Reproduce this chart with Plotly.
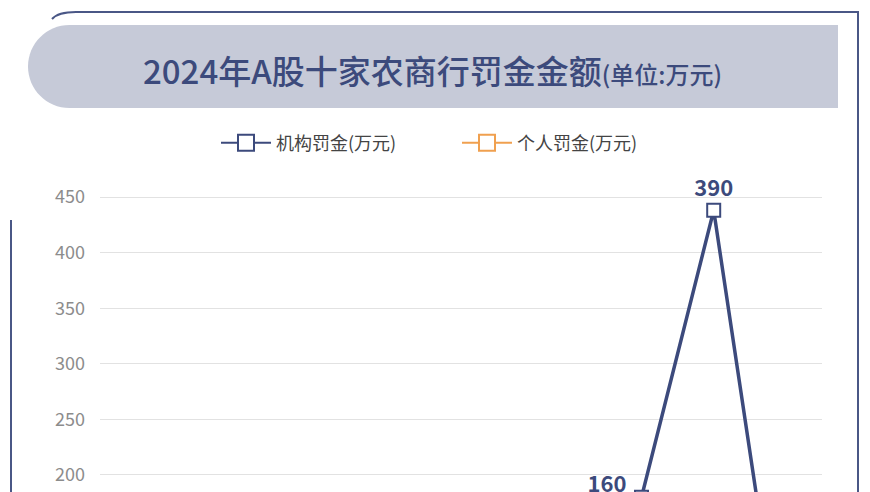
import plotly.graph_objects as go

# ten A-share rural commercial banks (x axis labels sit below the visible crop)
banks = ["沪农商行", "渝农商行", "青农商行", "常熟银行", "苏农银行",
         "江阴银行", "张家港行", "无锡银行", "紫金银行", "瑞丰银行"]

# institution fines, read as positions on the value axis
inst_fine = [120, 95, 60, 140, 80, 50, 100, 180, 438, 5]
# the numbers printed beside the markers
inst_label = ["", "", "", "", "", "", "", "160", "390", ""]

# personal fines (all below the visible part of the chart)
person_fine = [30, 45, 20, 60, 15, 25, 10, 35, 40, 20]

y_ticks = [0, 50, 100, 150, 200, 250, 300, 350, 400, 450]

NAVY = "#3c4a7c"
ORANGE = "#f0a04f"
FONT = "Noto Sans CJK SC"

# the page puts the plot 8px in from the top-left corner
OX, OY = 8, 8
W, H = 870 - OX, 492 - OY


def px(x):
    return (x - OX) / W


def py(y):
    return 1 - (y - OY) / H


fig = go.Figure()

series = [("机构罚金(万元)", inst_fine, NAVY), ("个人罚金(万元)", person_fine, ORANGE)]

for name, values, color in series:
    fig.add_trace(go.Scatter(
        x=banks, y=values,
        mode="lines+markers",
        name=name,
        showlegend=False,
        line=dict(color=color, width=3.5),
        marker=dict(symbol="square", size=13, color="white",
                    line=dict(color=color, width=2)),
        hoverinfo="skip",
    ))

# legend keys drawn thinner / bigger like the original
for name, values, color in series:
    fig.add_trace(go.Scatter(
        x=[None], y=[None],
        mode="lines+markers",
        name=name,
        line=dict(color=color, width=2),
        marker=dict(symbol="square", size=20, color="white",
                    line=dict(color=color, width=2)),
        hoverinfo="skip",
    ))

# value labels: the peak one sits on top, the others to the upper left
peak = inst_fine.index(max(inst_fine))
label_text = [lab if i == peak else (lab + "\u00a0\u00a0\u00a0" if lab else "")
              for i, lab in enumerate(inst_label)]
label_pos = ["top center" if i == peak else "top left" for i in range(len(banks))]
label_pad = [13 if i == peak else 0 for i in range(len(banks))]
fig.add_trace(go.Scatter(
    x=banks, y=inst_fine,
    mode="markers+text",
    marker=dict(size=label_pad, opacity=0),
    text=label_text,
    textposition=label_pos,
    textfont=dict(family=FONT, size=22, color=NAVY, weight="bold"),
    showlegend=False,
    hoverinfo="skip",
))

annotations = [dict(
    text="2024年A股十家农商行罚金金额<span style='font-size:24px'>(单位:万元)</span>",
    xref="paper", yref="paper",
    x=px(432), y=py(70), xanchor="center", yanchor="middle",
    showarrow=False,
    font=dict(family=FONT, size=33, color=NAVY, weight=500),
)]

# title banner, rounded on the left
k = 0.552 * 41.5
banner = (f"M {px(69.5)},{py(25)} L {px(838)},{py(25)} L {px(838)},{py(108)} "
          f"L {px(69.5)},{py(108)} "
          f"C {px(69.5 - k)},{py(108)} {px(28)},{py(66.5 + k)} {px(28)},{py(66.5)} "
          f"C {px(28)},{py(66.5 - k)} {px(69.5 - k)},{py(25)} {px(69.5)},{py(25)} Z")

# outer frame: top edge with rounded corner, right edge
frame = (f"M {px(52)},{py(19)} Q {px(58)},{py(12)} {px(76)},{py(12)} "
         f"L {px(858)},{py(12)} L {px(858)},{py(492)}")

fig.update_layout(
    width=W, height=H,
    margin=dict(l=0, r=0, t=0, b=0),
    paper_bgcolor="white",
    plot_bgcolor="white",
    font=dict(family=FONT),
    showlegend=True,
    legend=dict(
        orientation="h",
        x=px(216), xanchor="left",
        y=py(143), yanchor="middle",
        font=dict(family=FONT, size=18, color="#444444"),
        itemwidth=50,
        entrywidth=176,
        bgcolor="rgba(0,0,0,0)",
    ),
    xaxis=dict(
        domain=[px(100), px(822)],
        range=[-0.5, 9.5],
        showticklabels=False,
        showgrid=False,
        zeroline=False,
        fixedrange=True,
    ),
    yaxis=dict(
        domain=[0, 1],
        range=[184.7, 620.0],
        tickvals=y_ticks,
        tickfont=dict(family=FONT, size=18, color="#8c8c8c"),
        ticklabelstandoff=14,
        showgrid=True,
        gridcolor="#e2e2e2",
        gridwidth=1.2,
        zeroline=False,
        fixedrange=True,
    ),
    shapes=[
        dict(type="path", path=banner, xref="paper", yref="paper",
             fillcolor="#c6cad8", line=dict(width=0), layer="below"),
        dict(type="path", path=frame, xref="paper", yref="paper",
             line=dict(color="#4a5786", width=2)),
        dict(type="line", xref="paper", yref="paper",
             x0=px(11), x1=px(11), y0=py(220), y1=py(492),
             line=dict(color="#4a5786", width=2)),
    ],
    annotations=annotations,
)

fig.write_html("out.html", config={"displayModeBar": False})
